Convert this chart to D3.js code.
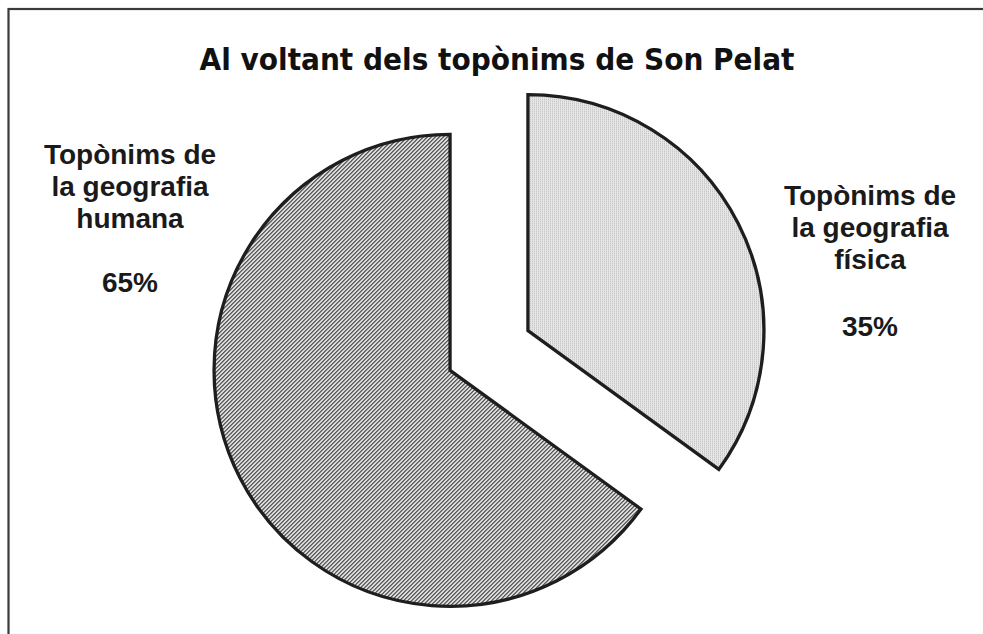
<!DOCTYPE html>
<html>
<head>
<meta charset="utf-8">
<script src="https://cdn.jsdelivr.net/npm/d3@7"></script>
<style>
  body { margin: 0; background: #fff; }
</style>
</head>
<body>
<div id="chart"></div>
<script>
// data
var categories = ["Topònims de la geografia física", "Topònims de la geografia humana"]
var values = [35, 65]
var labelLines = [["Topònims de", "la geografia", "física"], ["Topònims de", "la geografia", "humana"]]
var percentLabels = ["35%", "65%"]

var width = 983
var height = 634
var cx = 489, cy = 350.5
var radius = 236
var explode = 43.7

var svg = d3.select("#chart")
  .append("svg")
    .attr("width", width)
    .attr("height", height)

// frame (right and bottom edges fall outside the picture)
svg.append("rect")
  .attr("x", 8.5).attr("y", 9)
  .attr("width", 1000).attr("height", 700)
  .attr("fill", "none")
  .attr("stroke", "#3a3a3a")
  .attr("stroke-width", 2.2)

var defs = svg.append("defs")

var hatch = defs.append("pattern")
  .attr("id", "hatch")
  .attr("patternUnits", "userSpaceOnUse")
  .attr("width", 4).attr("height", 4)
hatch.append("rect").attr("width", 4).attr("height", 4).attr("fill", "#fff")
hatch.append("path")
  .attr("d", "M-1,1 l2,-2 M0,4 l4,-4 M3,5 l2,-2")
  .attr("stroke", "#1a1a1a")
  .attr("stroke-width", 1.2)

var dots = defs.append("pattern")
  .attr("id", "dots")
  .attr("patternUnits", "userSpaceOnUse")
  .attr("width", 2).attr("height", 2)
dots.append("rect").attr("width", 2).attr("height", 2).attr("fill", "#f6f6f6")
dots.append("rect").attr("width", 1).attr("height", 1).attr("fill", "#a8a8a8")
dots.append("rect").attr("x", 1).attr("y", 1).attr("width", 1).attr("height", 1).attr("fill", "#dcdcdc")

var fills = ["url(#dots)", "url(#hatch)"]

var pie = d3.pie()
  .sort(null)
  .value(function(d) { return d })
var dataready = pie(values)

var arc = d3.arc()
  .innerRadius(0)
  .outerRadius(radius)

var g = svg.append("g")
  .attr("transform", "translate(" + cx + "," + cy + ")")

g.selectAll("slices")
  .data(dataready)
  .enter()
  .append("path")
    .attr("d", arc)
    .attr("transform", function(d) {
      var mid = (d.startAngle + d.endAngle) / 2
      return "translate(" + (Math.sin(mid) * explode) + "," + (-Math.cos(mid) * explode) + ")"
    })
    .attr("fill", function(d, i) { return fills[i] })
    .attr("stroke", "#1e1e1e")
    .attr("stroke-width", 3.3)
    .attr("stroke-linejoin", "miter")

// title
svg.append("text")
  .attr("x", 497).attr("y", 70)
  .attr("text-anchor", "middle")
  .style("font-family", "'Comic Sans MS', 'DejaVu Sans', sans-serif")
  .style("font-weight", "bold")
  .style("font-size", "30px")
  .attr("textLength", 595)
  .attr("lengthAdjust", "spacingAndGlyphs")
  .attr("fill", "#111")
  .text("Al voltant dels topònims de Son Pelat")

// labels
var labelPos = [{x: 870, y: 205, py: 336}, {x: 130, y: 164, py: 292}]
var lineH = 32

labelPos.forEach(function(p, i) {
  var t = svg.append("text")
    .attr("text-anchor", "middle")
    .style("font-family", "'Liberation Sans', Arial, sans-serif")
    .style("font-weight", "bold")
    .style("font-size", "28px")
    .attr("fill", "#1a1a1a")
  labelLines[i].forEach(function(line, j) {
    t.append("tspan")
      .attr("x", p.x)
      .attr("y", p.y + j * lineH)
      .text(line)
  })
  svg.append("text")
    .attr("x", p.x).attr("y", p.py)
    .attr("text-anchor", "middle")
    .style("font-family", "'Liberation Sans', Arial, sans-serif")
    .style("font-weight", "bold")
    .style("font-size", "28px")
    .attr("fill", "#1a1a1a")
    .text(percentLabels[i])
})
</script>
</body>
</html>
